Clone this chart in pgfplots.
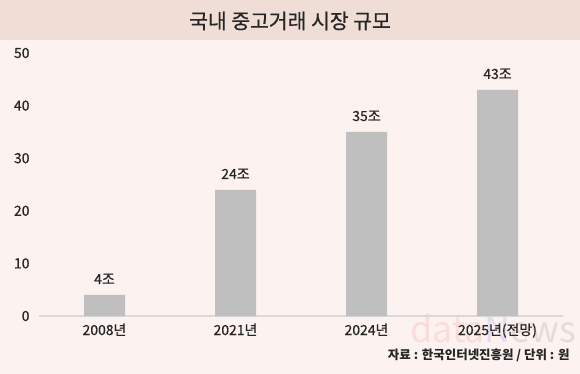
\documentclass[border=0pt]{standalone}
\usepackage{pgfplots}
\pgfplotsset{compat=1.18}
\usepackage{fontspec}
\setmainfont{Noto Sans CJK KR}
\newfontfamily\med{Noto Sans CJK KR}[FakeBold=0.6]
\definecolor{bg}{HTML}{FCF2EF}
\definecolor{band}{HTML}{F0DDD6}
\definecolor{barc}{HTML}{BFBFBF}
\definecolor{axl}{HTML}{D9D9D9}
\begin{document}
\begin{tikzpicture}
\path[use as bounding box] (0,0) rectangle (580bp,-374bp);
\fill[bg] (0,0) rectangle (580bp,-374bp);
\fill[band] (0,0) rectangle (580bp,-40bp);
\node[text=black!85] at (290bp,-21bp) {\fontsize{20.5}{20.5}\selectfont\med 국내 중고거래 시장 규모};
\node[opacity=0.09, anchor=base west, inner sep=0pt] at (410bp,-342bp) {\fontsize{36}{36}\selectfont\textcolor{red}{data}\textcolor{blue}{N}\textcolor{black}{ews}};
\begin{axis}[
  at={(39bp,-316bp)}, anchor=south west,
  scale only axis, width=524bp, height=263bp,
  xmin=-0.5, xmax=3.5, ymin=0, ymax=50,
  axis x line*=bottom, axis y line*=left,
  x axis line style={draw=axl, line width=1.5bp, -},
  y axis line style={draw=none},
  major tick length=0pt,
  ytick={0,10,20,30,40,50},
  xtick=data,
  xticklabels={2008년,2021년,2024년,2025년(전망)},
  tick label style={font=\fontsize{14}{14}\selectfont\med, text=black!85},
  /pgf/number format/assume math mode=true,
  yticklabel style={xshift=-6bp},
  xticklabel style={yshift=-4bp},
  ybar, bar width=41bp,
  nodes near coords={\pgfmathprintnumber{\pgfplotspointmeta}조},
  every node near coord/.append style={font=\fontsize{14}{14}\selectfont\med, text=black!85, anchor=center, yshift=16bp},
  clip=false,
]
\addplot[fill=barc, draw=none] coordinates {(0,4) (1,24) (2,35) (3,43)};
\end{axis}
\node[anchor=east, text=black!85] at (573bp,-355bp) {\fontsize{12.5}{12.5}\selectfont\bfseries 자료 : 한국인터넷진흥원 / 단위 : 원};
\end{tikzpicture}
\end{document}
